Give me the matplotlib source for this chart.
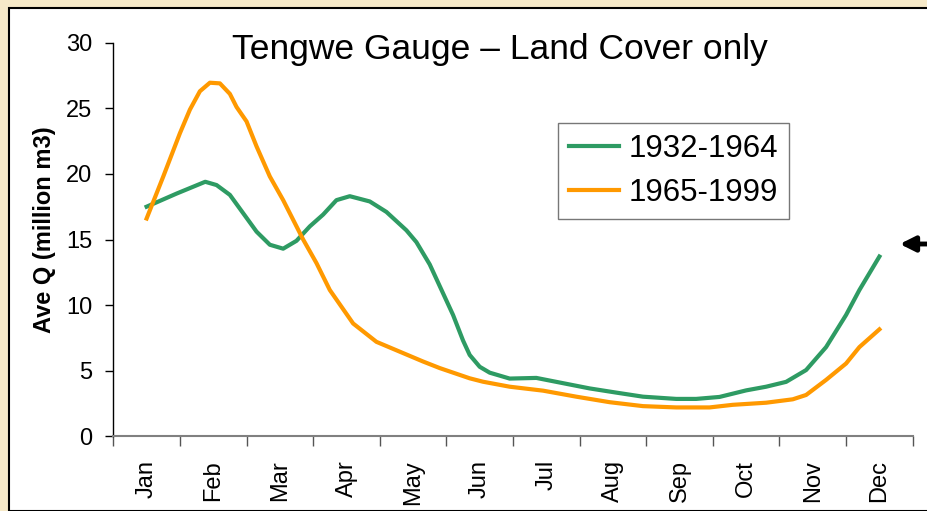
import matplotlib.pyplot as plt
from matplotlib.patches import Rectangle

plt.rcParams['font.family'] = ['Liberation Sans', 'DejaVu Sans']

months = ['Jan', 'Feb', 'Mar', 'Apr', 'May', 'Jun', 'Jul', 'Aug', 'Sep', 'Oct', 'Nov', 'Dec']

# position in months (0 = Jan) and average flow
t_early = [0.0, 0.45, 0.88, 1.05, 1.25, 1.45, 1.65, 1.85, 2.05, 2.25, 2.45, 2.65, 2.85,
           3.05, 3.35, 3.6, 3.9, 4.05, 4.25, 4.45, 4.6, 4.75, 4.85, 5.0, 5.15, 5.45,
           5.85, 6.25, 6.65, 7.05, 7.45, 7.95, 8.25, 8.6, 9.0, 9.3, 9.6, 9.9, 10.2,
           10.5, 10.7, 11.0]
q_early = [17.5, 18.5, 19.4, 19.15, 18.4, 17.0, 15.6, 14.6, 14.3, 14.9, 16.0, 16.9, 18.0,
           18.3, 17.9, 17.1, 15.7, 14.8, 13.1, 10.9, 9.25, 7.3, 6.2, 5.3, 4.85, 4.4,
           4.45, 4.05, 3.65, 3.33, 3.02, 2.85, 2.85, 3.0, 3.5, 3.78, 4.15, 5.05, 6.8,
           9.25, 11.15, 13.7]

t_late = [0.0, 0.25, 0.5, 0.65, 0.8, 0.95, 1.1, 1.25, 1.35, 1.5, 1.65, 1.85, 2.05,
          2.25, 2.35, 2.45, 2.55, 2.75, 3.1, 3.45, 3.8, 4.15, 4.4, 4.85, 5.05, 5.45,
          5.95, 6.45, 6.95, 7.45, 7.95, 8.45, 8.8, 9.3, 9.7, 9.9, 10.2, 10.5, 10.7, 11.0]
q_late = [16.6, 19.8, 23.1, 24.9, 26.3, 26.95, 26.9, 26.1, 25.1, 24.0, 22.1, 19.8, 18.0,
          16.0, 15.0, 14.1, 13.2, 11.15, 8.6, 7.2, 6.45, 5.7, 5.2, 4.42, 4.16, 3.78,
          3.48, 3.02, 2.6, 2.3, 2.2, 2.2, 2.4, 2.56, 2.82, 3.15, 4.3, 5.55, 6.8, 8.15]

W, H = 928, 511
fig = plt.figure(figsize=(W / 100, H / 100), dpi=100)
fig.patch.set_facecolor('#F6E9C8')
fig.patches.append(Rectangle((9 / W, 0), 1, 1 - 8 / H, transform=fig.transFigure,
                             facecolor='white', edgecolor='black', linewidth=1.5,
                             zorder=-10))

ax = fig.add_axes([113.3 / W, 1 - 436.3 / H, 799.4 / W, 393.6 / H])
ax.set_facecolor('none')
ax.plot(t_early, q_early, color='#2E9B63', lw=3, label='1932-1964')
ax.plot(t_late, q_late, color='#FF9900', lw=3, label='1965-1999')

ax.set_xlim(-0.5, 11.5)
ax.set_ylim(0, 30)
ax.set_yticks(range(0, 31, 5))
ax.set_xticks(range(12))
ax.set_xticklabels(months, rotation=90)
ax.set_xticks([i - 0.5 for i in range(13)], minor=True)
ax.tick_params(axis='x', which='major', length=0, pad=17, labelsize=17)
ax.tick_params(axis='x', which='minor', length=7, color='#555555', width=1)
ax.tick_params(axis='y', length=6, width=1, pad=9, labelsize=17)
for s in ['top', 'right']:
    ax.spines[s].set_visible(False)
ax.spines['bottom'].set_color('#808080')
ax.spines['bottom'].set_linewidth(1.5)
ax.spines['left'].set_linewidth(1)

ax.set_ylabel('Ave Q (million m3)', fontsize=17, fontweight='bold')
ax.yaxis.set_label_coords(-0.072, 0.524)

fig.text(500 / W, 1 - 50 / H, 'Tengwe Gauge \u2013 Land Cover only', fontsize=25.5,
         ha='center', va='center')

leg = ax.legend(loc='upper left', bbox_to_anchor=(558 / W, 1 - 123 / H),
                bbox_transform=fig.transFigure, fontsize=22.5, frameon=True,
                fancybox=False, edgecolor='#555555', handlelength=1.6,
                handletextpad=0.3, labelspacing=0.45, borderpad=0.35,
                borderaxespad=0)
leg.get_frame().set_linewidth(1)

ax.annotate('', xy=(897, H - 244), xycoords='figure pixels',
            xytext=(945, H - 244), textcoords='figure pixels',
            arrowprops=dict(arrowstyle='-|>,head_length=0.9,head_width=0.45',
                            color='black', lw=3.5))

fig.savefig('out.png', dpi=100, facecolor=fig.get_facecolor())
